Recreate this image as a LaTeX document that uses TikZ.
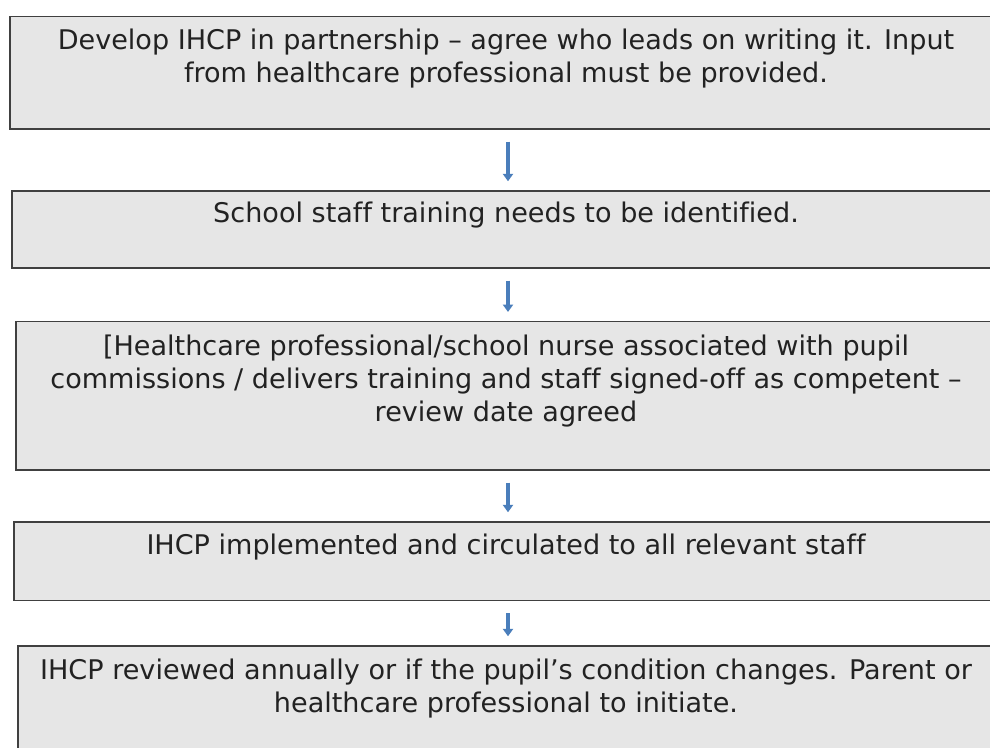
\documentclass[tikz,border=0pt]{standalone}
\usepackage{fontspec}
\setmainfont{DejaVu Sans}[Ligatures={NoCommon}]
\usetikzlibrary{arrows.meta,fit}
\definecolor{boxfill}{HTML}{E6E6E6}
\definecolor{boxline}{HTML}{404040}
\definecolor{arrowblue}{HTML}{4A7EBB}
\definecolor{txtcol}{HTML}{222222}
\tikzset{
  box/.style={draw=boxline, fill=boxfill, line width=1.1pt, inner sep=0pt},
  txt/.style={text=txtcol, align=center, inner sep=0pt,
    font=\fontsize{20.3pt}{24.75pt}\selectfont},
  flowarrow/.style={draw=arrowblue, line width=2.8pt,
    -{Triangle[width=7.5pt,length=5.5pt]}, shorten <=9pt, shorten >=6.75pt}
}
\begin{document}
\begin{tikzpicture}[x=0.75pt,y=-0.75pt]
\useasboundingbox (0,0) rectangle (990,748);
\clip (0,0) rectangle (990,748);
\coordinate (ax) at (508,0);
\node[box, fit={(10,16.7) (1002,129)}] (b1) {};
\node[box, fit={(12,191) (1002,268)}] (b2) {};
\node[box, fit={(16,321.7) (1002,470)}] (b3) {};
\node[box, fit={(14,522) (1002,600.7)}] (b4) {};
\node[box, fit={(18,646) (1002,780)}] (b5) {};
\node[txt, anchor=base] (t1) at (506,83) {Develop IHCP in partnership – agree who leads on writing it. Input\\from healthcare professional must be provided.};
\node[txt, anchor=base] (t2) at (506,223) {School staff training needs to be identified.};
\node[txt, anchor=base] (t3) at (506,422) {[Healthcare professional/school nurse associated with pupil\\commissions / delivers training and staff signed-off as competent –\\review date agreed};
\node[txt, anchor=base] (t4) at (506,555) {IHCP implemented and circulated to all relevant staff};
\node[txt, anchor=base] (t5) at (506,713) {IHCP reviewed annually or if the pupil’s condition changes. Parent or\\healthcare professional to initiate.};
\draw[flowarrow] (b1.south -| ax) -- (b2.north -| ax);
\draw[flowarrow] (b2.south -| ax) -- (b3.north -| ax);
\draw[flowarrow] (b3.south -| ax) -- (b4.north -| ax);
\draw[flowarrow] (b4.south -| ax) -- (b5.north -| ax);
\end{tikzpicture}
\end{document}
